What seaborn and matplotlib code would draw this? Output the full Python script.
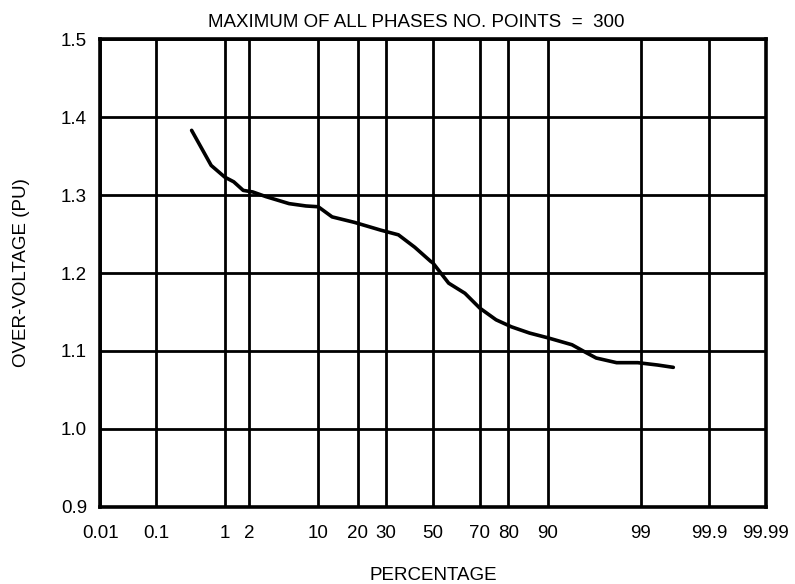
from statistics import NormalDist

import matplotlib.pyplot as plt
import numpy as np
import seaborn as sns

# (percentage on normal probability axis, over-voltage in pu)
percent = [0.35, 0.66, 1.0, 1.3, 1.7, 2.2, 3.1, 5.4, 7.8, 10.0, 13.0,
           19.0, 28.0, 35.0, 42.0, 49.0, 50.0, 57.0, 64.0, 70.0, 76.0,
           81.0, 86.0, 90.0, 94.0, 95.5, 96.6, 98.0, 98.9, 99.4, 99.64]
voltage = [1.383, 1.338, 1.323, 1.317, 1.306, 1.304, 1.298, 1.289, 1.286,
           1.285, 1.272, 1.265, 1.255, 1.249, 1.233, 1.215, 1.213, 1.187,
           1.174, 1.155, 1.140, 1.131, 1.123, 1.117, 1.108, 1.099, 1.091,
           1.085, 1.085, 1.082, 1.079]

tick_pcts = [0.01, 0.1, 1, 2, 10, 20, 30, 50, 70, 80, 90, 99, 99.9, 99.99]
tick_labels = ["0.01", "0.1", "1", "2", "10", "20", "30", "50", "70", "80",
               "90", "99", "99.9", "99.99"]
volt_ticks = [0.9, 1.0, 1.1, 1.2, 1.3, 1.4, 1.5]

_nd = NormalDist()
_ppf = np.vectorize(lambda p: _nd.inv_cdf(p), otypes=[float])
_cdf = np.vectorize(lambda z: _nd.cdf(z), otypes=[float])


def to_z(p):
    p = np.clip(np.asarray(p, dtype=float) / 100.0, 1e-9, 1 - 1e-9)
    return _ppf(p)


def from_z(z):
    return _cdf(np.asarray(z, dtype=float)) * 100.0


sns.set_theme(style="white")
plt.rcParams["font.family"] = ["Liberation Sans", "DejaVu Sans"]
plt.rcParams["text.color"] = "black"
plt.rcParams["axes.labelcolor"] = "black"

fig, ax = plt.subplots(figsize=(7.95, 5.84), dpi=100)
fig.subplots_adjust(left=0.126, right=0.963, top=0.933, bottom=0.132)

ax.set_xscale("function", functions=(to_z, from_z))
sns.lineplot(x=percent, y=voltage, ax=ax, color="black", linewidth=2.6,
             sort=False, estimator=None)

ax.set_xlim(0.01, 99.99)
ax.set_ylim(0.9, 1.5)
ax.set_xticks(tick_pcts)
ax.set_xticklabels(tick_labels)
ax.set_yticks(volt_ticks)
ax.set_yticklabels([f"{v:.1f}" for v in volt_ticks])
ax.minorticks_off()

ax.grid(True, color="black", linewidth=2.0)
for s in ax.spines.values():
    s.set_color("black")
    s.set_linewidth(2.6)
ax.tick_params(axis="both", direction="out", length=6, width=2,
               color="black", labelsize=13.5, labelcolor="black")
ax.tick_params(axis="x", pad=7)

ax.set_title("MAXIMUM OF ALL PHASES NO. POINTS  =  300", fontsize=13.5,
             pad=9, x=0.475)
ax.set_xlabel("PERCENTAGE", fontsize=13.5, labelpad=18)
ax.set_ylabel("OVER-VOLTAGE (PU)", fontsize=13.5, labelpad=22)

fig.savefig("out.png", dpi=100)
